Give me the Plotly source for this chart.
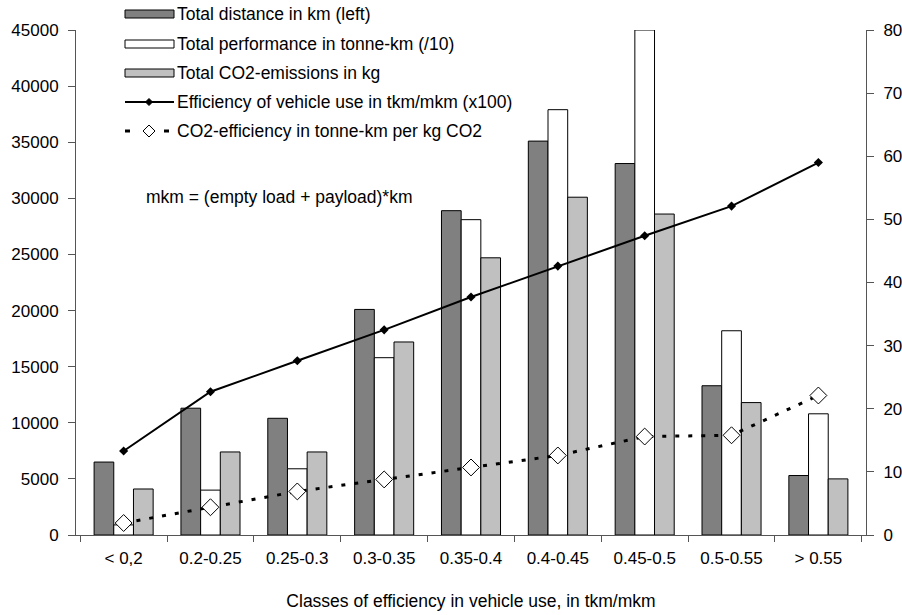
import plotly.graph_objects as go

categories = ["< 0,2", "0.2-0.25", "0.25-0.3", "0.3-0.35", "0.35-0.4",
              "0.4-0.45", "0.45-0.5", "0.5-0.55", "> 0.55"]
distance_km = [6500, 11300, 10400, 20100, 28900, 35100, 33100, 13300, 5300]
performance_tkm_div10 = [900, 4000, 5900, 15800, 28100, 37900, 45000, 18200, 10800]
co2_kg = [4100, 7400, 7400, 17200, 24700, 30100, 28600, 11800, 5000]
efficiency_x100 = [13.3, 22.7, 27.6, 32.5, 37.7, 42.6, 47.4, 52.1, 59.0]
co2_efficiency = [1.9, 4.4, 6.9, 8.8, 10.7, 12.6, 15.6, 15.8, 22.1]

legend_labels = [
    "Total distance in km (left)",
    "Total performance in tonne-km (/10)",
    "Total CO2-emissions in kg",
    "Efficiency of vehicle use in tkm/mkm (x100)",
    "CO2-efficiency in tonne-km per kg CO2",
]

FONT = "Liberation Sans, Arial, sans-serif"
AXIS = "#555555"
L, R, T, B = 76, 866, 30, 535

def px(x):
    return (x - L) / (R - L)

def py(y):
    return (B - y) / (B - T)

fig = go.Figure()

bar_line = dict(color="#000000", width=1)
fig.add_trace(go.Bar(x=categories, y=distance_km, marker=dict(color="#808080", line=bar_line)))
fig.add_trace(go.Bar(x=categories, y=performance_tkm_div10, marker=dict(color="#ffffff", line=bar_line)))
fig.add_trace(go.Bar(x=categories, y=co2_kg, marker=dict(color="#c0c0c0", line=bar_line)))

fig.add_trace(go.Scatter(
    x=categories, y=efficiency_x100, yaxis="y2", mode="lines+markers",
    line=dict(color="#000000", width=2),
    marker=dict(symbol="diamond", size=7, color="#000000"),
    cliponaxis=False,
))
fig.add_trace(go.Scatter(
    x=categories, y=co2_efficiency, yaxis="y2", mode="lines+markers",
    line=dict(color="#000000", width=3, dash="4px,9px"),
    marker=dict(symbol="diamond", size=13, color="#ffffff", line=dict(color="#000000", width=1)),
    cliponaxis=False,
))

# hand-drawn legend, Excel style
shapes = []
annotations = []
rows_y = [14, 44, 73, 102, 131]
fills = ["#808080", "#ffffff", "#c0c0c0"]
for i, yy in enumerate(rows_y):
    if i < 3:
        shapes.append(dict(type="rect", xref="paper", yref="paper",
                           x0=px(125), x1=px(174), y0=py(yy + 4), y1=py(yy - 4),
                           fillcolor=fills[i], line=dict(color="#000000", width=1)))
    elif i == 3:
        shapes.append(dict(type="line", xref="paper", yref="paper",
                           x0=px(125), x1=px(174), y0=py(yy), y1=py(yy),
                           line=dict(color="#000000", width=2)))
        d = 3.5
        shapes.append(dict(type="path", xref="paper", yref="paper",
                           path=f"M {px(149)},{py(yy - d)} L {px(149 + d)},{py(yy)} L {px(149)},{py(yy + d)} L {px(149 - d)},{py(yy)} Z",
                           fillcolor="#000000", line=dict(color="#000000", width=1)))
    else:
        for x0 in (125, 164):
            shapes.append(dict(type="line", xref="paper", yref="paper",
                               x0=px(x0), x1=px(x0 + 5), y0=py(yy), y1=py(yy),
                               line=dict(color="#000000", width=3)))
        d = 6
        shapes.append(dict(type="path", xref="paper", yref="paper",
                           path=f"M {px(149)},{py(yy - d)} L {px(149 + d)},{py(yy)} L {px(149)},{py(yy + d)} L {px(149 - d)},{py(yy)} Z",
                           fillcolor="#ffffff", line=dict(color="#000000", width=1)))
    annotations.append(dict(xref="paper", yref="paper", x=px(175), y=py(yy),
                            xanchor="left", yanchor="middle", showarrow=False,
                            text=legend_labels[i], font=dict(size=17.5, color="#000000", family=FONT)))

annotations.append(dict(xref="paper", yref="paper", x=px(144), y=py(197),
                        xanchor="left", yanchor="middle", showarrow=False,
                        text="mkm = (empty load + payload)*km",
                        font=dict(size=17.5, color="#000000", family=FONT)))

fig.update_layout(
    width=902, height=615,
    margin=dict(l=L, r=902 - R, t=T, b=615 - B),
    paper_bgcolor="#ffffff", plot_bgcolor="#ffffff",
    font=dict(family=FONT, size=17, color="#000000"),
    barmode="group", bargap=0.32, bargroupgap=0,
    showlegend=False,
    shapes=shapes, annotations=annotations,
    xaxis=dict(
        title=dict(text="Classes of efficiency in vehicle use, in tkm/mkm",
                   font=dict(size=17.5), standoff=27),
        showline=True, linecolor=AXIS, linewidth=1,
        ticks="outside", tickson="boundaries", ticklen=6, tickcolor=AXIS,
        ticklabelstandoff=8, automargin=False,
        showgrid=False, tickfont=dict(size=17),
    ),
    yaxis=dict(
        range=[0, 45000], dtick=5000, tickformat="d", showgrid=False,
        showline=True, linecolor=AXIS, linewidth=1, automargin=False,
        ticks="outside", ticklen=7, tickcolor=AXIS, ticklabelstandoff=6,
        tickfont=dict(size=17), zeroline=False,
    ),
    yaxis2=dict(
        range=[0, 80], dtick=10, overlaying="y", side="right", showgrid=False,
        showline=True, linecolor=AXIS, linewidth=1, automargin=False,
        ticks="outside", ticklen=7, tickcolor=AXIS, ticklabelstandoff=6,
        tickfont=dict(size=17), zeroline=False,
    ),
)

fig.write_html("out.html", config={"displayModeBar": False},
               post_script="document.body.style.margin='0';")
